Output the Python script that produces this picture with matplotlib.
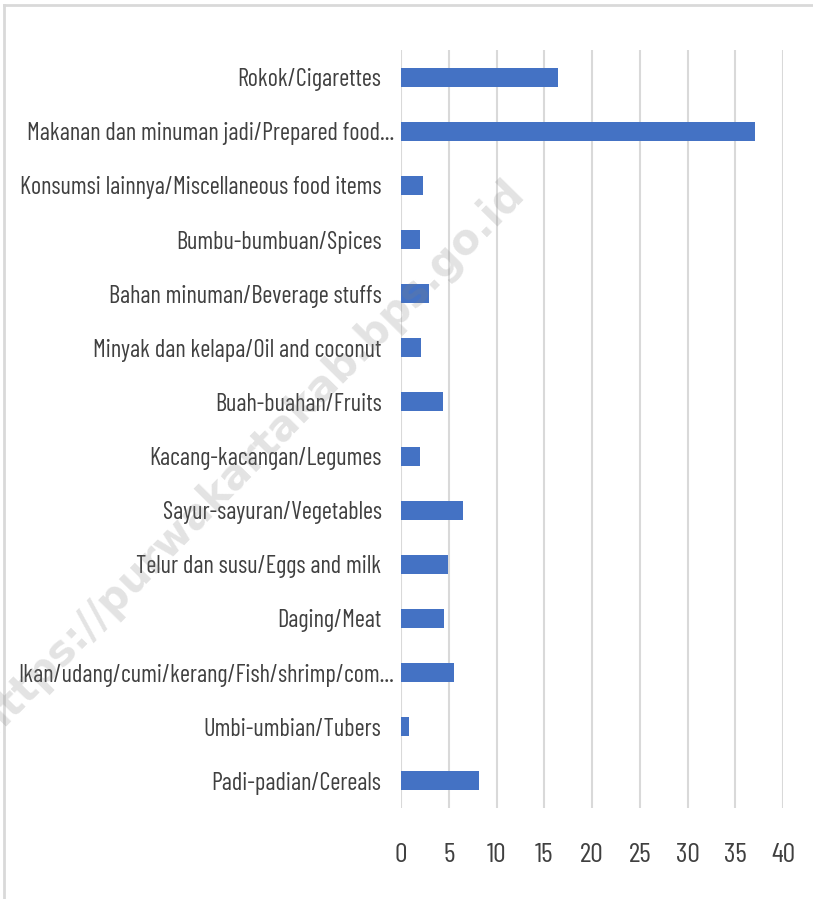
import matplotlib
matplotlib.use("Agg")
import matplotlib.pyplot as plt
from matplotlib.lines import Line2D
from matplotlib.transforms import ScaledTranslation

# categories listed bottom -> top, as drawn
categories = [
    "Padi-padian/Cereals",
    "Umbi-umbian/Tubers",
    "Ikan/udang/cumi/kerang/Fish/shrimp/com...",
    "Daging/Meat",
    "Telur dan susu/Eggs and milk",
    "Sayur-sayuran/Vegetables",
    "Kacang-kacangan/Legumes",
    "Buah-buahan/Fruits",
    "Minyak dan kelapa/Oil and coconut",
    "Bahan minuman/Beverage stuffs",
    "Bumbu-bumbuan/Spices",
    "Konsumsi lainnya/Miscellaneous food items",
    "Makanan dan minuman jadi/Prepared food...",
    "Rokok/Cigarettes",
]
values = [8.17, 0.8, 5.58, 4.54, 4.95, 6.53, 1.95, 4.43, 2.05, 2.96, 2.0, 2.3, 37.07, 16.47]
xticks = [0, 5, 10, 15, 20, 25, 30, 35, 40]

FONT = "Barlow Condensed"
WEIGHT = 400
TXT = "#404040"
BLUE = "#4472C4"
GRID = "#d9d9d9"

fig = plt.figure(figsize=(8.13, 8.99), dpi=100)
ax = fig.add_axes([401 / 813, 1 - 808 / 899, 382 / 813, 758 / 899])

# pick a font size so the longest full label is ~361 px wide, as in the original
probe = fig.text(0, 0, "Konsumsi lainnya/Miscellaneous food items", fontfamily=FONT,
                 fontweight=WEIGHT, fontsize=20)
fig.canvas.draw()
w = probe.get_window_extent().width
probe.remove()
fs = 20 * 361 / w

ypos = list(range(len(categories)))
ax.barh(ypos, values, height=0.35, color=BLUE, zorder=3)

ax.set_xlim(0, 40)
ax.set_ylim(-0.5, len(categories) - 0.5)
ax.set_xticks(xticks)
ax.set_xticklabels([str(t) for t in xticks], fontfamily=FONT, fontweight=WEIGHT,
                   fontsize=fs * 1.15, color=TXT)
ax.set_yticks(ypos)
ax.set_yticklabels(categories, fontfamily=FONT, fontweight=WEIGHT, fontsize=fs, color=TXT)
ax.tick_params(axis="x", length=0, pad=25)
ax.tick_params(axis="y", length=0, pad=14)

# Excel pushes the truncated labels a bit further right
for lab in ax.get_yticklabels():
    if lab.get_text().endswith("..."):
        lab.set_transform(lab.get_transform() + ScaledTranslation(13 / 100, 0, fig.dpi_scale_trans))

ax.grid(axis="x", color=GRID, linewidth=1.5, zorder=0)
ax.grid(axis="y", visible=False)
for s in ax.spines.values():
    s.set_visible(False)

# chart area border (only top and left are inside the crop)
fig.add_artist(Line2D([4 / 813, 4 / 813], [0, 1 - 5 / 899], transform=fig.transFigure,
                      color=GRID, linewidth=2))
fig.add_artist(Line2D([4 / 813, 1], [1 - 5 / 899, 1 - 5 / 899], transform=fig.transFigure,
                      color=GRID, linewidth=2))

# watermark
fig.text(250 / 813, 1 - 458 / 899, "https://purwakartakab.bps.go.id", rotation=45.5,
         ha="center", va="center", fontsize=30, fontweight="bold", color="#808080",
         alpha=0.22, zorder=10, fontfamily="DejaVu Sans")

fig.savefig("out.png", dpi=100)
